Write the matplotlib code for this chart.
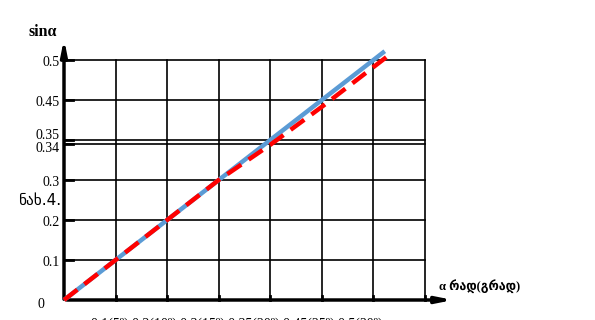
import matplotlib.pyplot as plt

# -----------------------------
# Data (grid units: one cell per step)
# -----------------------------
y_levels = [0, 1, 2, 3, 3.9, 4, 5, 6]
y_labels = ["0", "0.1", "0.2", "0.3", "0.34", "0.35", "0.45", "0.5"]
x_levels = [0, 1, 2, 3, 4, 5, 6, 7]
x_tick_text = "0.1(5º) 0.2(10º) 0.3(15º) 0.35(20º) 0.45(25º) 0.5(30º)"

blue_x = [0, 6.22]
blue_y = [0, 6.22]
red_x = [0, 3, 4, 5, 6.3]
red_y = [0, 3, 3.88, 4.83, 6.12]

fig = plt.figure(figsize=(5.95, 3.2), dpi=100)
ax = fig.add_axes([0, 0, 1, 1])
ax.set_xlim(-64 / 51.57, (595 - 64) / 51.57)
ax.set_ylim(-0.5, 7.5)
ax.axis("off")

serif = ["Liberation Serif", "DejaVu Sans"]

# grid
for yv in y_levels[1:]:
    ax.plot([0, 7], [yv, yv], color="black", lw=1.2, zorder=1)
for xv in x_levels[1:]:
    ax.plot([xv, xv], [0, 6], color="black", lw=1.2, zorder=1)

# axes with arrows
ax.annotate("", xy=(0, 6.6), xytext=(0, -0.05),
            arrowprops=dict(arrowstyle="-|>,head_length=0.9,head_width=0.18", lw=2.5, color="black"))
ax.annotate("", xy=(7.6, 0), xytext=(0, 0),
            arrowprops=dict(arrowstyle="-|>,head_length=0.9,head_width=0.18", lw=2.5, color="black"))

# ticks
for yv in y_levels[1:]:
    ax.plot([0, 0.17], [yv, yv], color="black", lw=2, zorder=2)
for xv in x_levels[1:]:
    ax.plot([xv, xv], [0, 0.1], color="black", lw=2, zorder=2)

# y labels
for yv, lab in zip(y_levels, y_labels):
    dy = -0.05
    if lab == "0.35":
        dy = 0.12
    elif lab == "0.34":
        dy = -0.12
    elif lab == "0":
        dy = -0.12
    xpos = -0.08 if lab != "0" else -0.38
    ax.text(xpos, yv + dy, lab, ha="right", va="center", fontsize=10, family=serif)

# lines
ax.plot(blue_x, blue_y, color="#5B9BD5", lw=3.2, solid_capstyle="butt", zorder=3)
ax.plot(red_x, red_y, color="#FF0000", lw=3.2, dashes=(3.8, 2.0), zorder=4)

# texts
ax.text(-0.41, 6.7, "sinα", ha="center", va="center", fontsize=11.5, fontweight="bold", family=serif)
ax.text(7.27, 0.35, "α რად(გრად)", ha="left", va="center", fontsize=9, fontweight="bold", family=serif)
ax.text(-0.48, 2.5, "ნახ.4.", ha="center", va="center", fontsize=11, family=["DejaVu Sans"])
ax.text(3.35, -0.6, x_tick_text, ha="center", va="center", fontsize=10, family=serif)

plt.savefig("out.png", dpi=100)
